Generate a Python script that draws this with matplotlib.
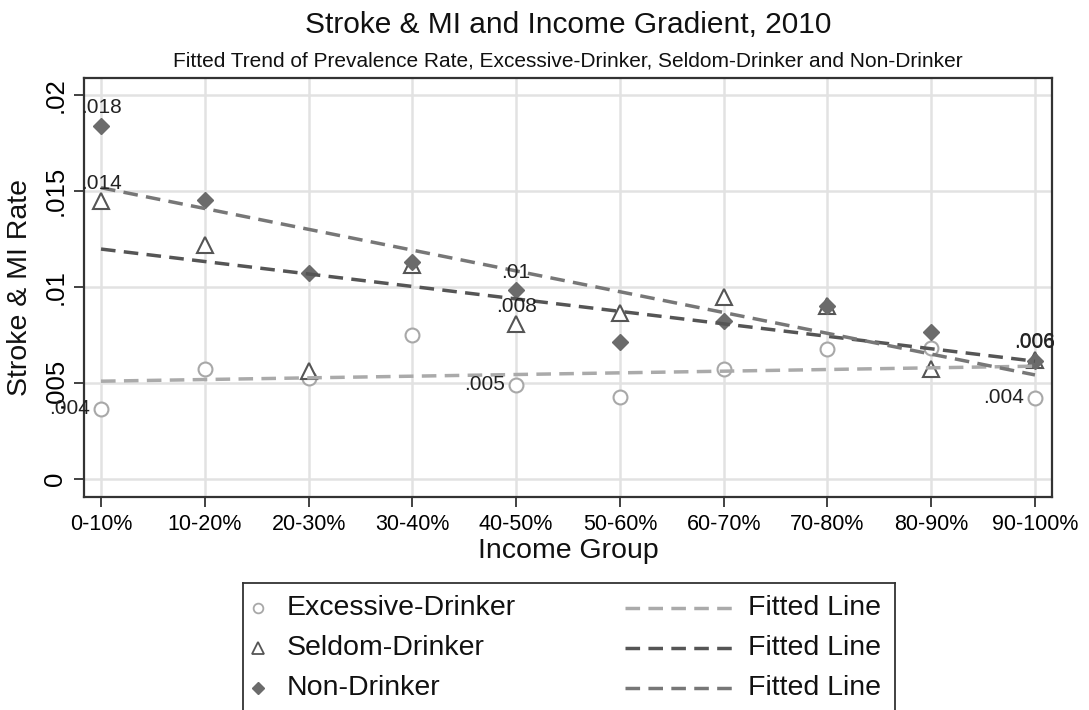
import matplotlib
matplotlib.use("Agg")
import matplotlib.pyplot as plt
from matplotlib.lines import Line2D
import numpy as np

plt.rcParams['font.family'] = ['Liberation Sans', 'DejaVu Sans']

groups = ["0-10%", "10-20%", "20-30%", "30-40%", "40-50%",
          "50-60%", "60-70%", "70-80%", "80-90%", "90-100%"]
excessive = [0.00365, 0.00573, 0.00526, 0.00750, 0.00490,
             0.00427, 0.00573, 0.00677, 0.00682, 0.00422]
seldom = [0.01446, 0.01219, 0.00563, 0.01115, 0.00807,
          0.00865, 0.00948, 0.00900, 0.00573, 0.00620]
non_drinker = [0.01839, 0.01453, 0.01073, 0.01130, 0.00984,
               0.00714, 0.00823, 0.00900, 0.00766, 0.00615]
labelled = [0, 4, 9]   # points that carry a value label
yticks = [0, 0.005, 0.01, 0.015, 0.02]
yticklabels = ["0", ".005", ".01", ".015", ".02"]

def fmt(v):
    s = ("%.3f" % round(v, 3)).rstrip("0")
    return s[1:] if s.startswith("0") else s

W, H = 1089, 710
fig = plt.figure(figsize=(W / 100, H / 100), dpi=100)
ax = fig.add_axes([84 / W, 1 - 497 / H, (1052 - 84) / W, (497 - 78) / H])

x = np.arange(len(groups))

# scatter series
ax.plot(x, excessive, "o", ms=10, mfc="white", mec="#a8a8a8", mew=1.5, zorder=3)
ax.plot(x, seldom, "^", ms=11, mfc="white", mec="#555555", mew=1.5, zorder=3)
ax.plot(x, non_drinker, "D", ms=8, mfc="#6b6b6b", mec="#6b6b6b", zorder=4)

# fitted lines
fit_colors = ["#aaaaaa", "#555555", "#777777"]
for vals, c in zip([excessive, seldom, non_drinker], fit_colors):
    b, a = np.polyfit(x, vals, 1)
    ax.plot(x, a + b * x, color=c, lw=2.5, dashes=(4.2, 2.4), zorder=5)

# value labels
for i in labelled:
    ax.annotate(fmt(excessive[i]), (x[i], excessive[i]), xytext=(-8, 0),
                textcoords="offset points", ha="right", va="center",
                fontsize=15, color="#222222", zorder=6)
    for vals in (seldom, non_drinker):
        ax.annotate(fmt(vals[i]), (x[i], vals[i]), xytext=(0, 13),
                    textcoords="offset points", ha="center", va="center",
                    fontsize=15, color="#222222", zorder=6)

ax.set_xlim(-0.164, 9.164)
ax.set_ylim(-0.00094, 0.02089)
ax.set_xticks(x)
ax.set_xticklabels(groups, fontsize=15.5)
ax.set_yticks(yticks)
ax.set_yticklabels(yticklabels, fontsize=18.5, rotation=90, va="center")
ax.tick_params(axis="both", direction="out", length=7, width=1.3,
               color="#333333", pad=5)
ax.grid(True, color="#e2e2e2", lw=1.8, zorder=0)
ax.set_axisbelow(True)
for s in ax.spines.values():
    s.set_color("#333333")
    s.set_linewidth(1.6)

ax.set_xlabel("Income Group", fontsize=20.5, color="#111111")
ax.xaxis.label.set_va("center")
ax.xaxis.set_label_coords(0.5, -(551 - 497) / 419)
ax.set_ylabel("Stroke & MI Rate", fontsize=20.5, color="#111111")
ax.yaxis.label.set_va("center")
ax.yaxis.set_label_coords(-(84 - 20) / 968, 0.5)

fig.text(568 / W, 1 - 25 / H, "Stroke & MI and Income Gradient, 2010",
         ha="center", va="center", fontsize=21.5, color="#111111")
fig.text(568 / W, 1 - 61 / H,
         "Fitted Trend of Prevalence Rate, Excessive-Drinker, Seldom-Drinker and Non-Drinker",
         ha="center", va="center", fontsize=15, color="#111111")

# legend box drawn by hand (box runs off the bottom edge)
lg = fig.add_axes([243 / W, 1 - 720 / H, (895 - 243) / W, (720 - 583) / H])
lg.set_xlim(243, 895)
lg.set_ylim(720, 583)
lg.set_xticks([])
lg.set_yticks([])
for s in lg.spines.values():
    s.set_color("#333333")
    s.set_linewidth(1.3)
rows = [608, 648, 688]
names = ["Excessive-Drinker", "Seldom-Drinker", "Non-Drinker"]
marker_styles = [dict(marker="o", ms=7, mfc="white", mec="#a8a8a8", mew=1.3),
                 dict(marker="^", ms=8, mfc="white", mec="#555555", mew=1.3),
                 dict(marker="D", ms=6, mfc="#6b6b6b", mec="#6b6b6b")]
for r, name, ms_kw, c in zip(rows, names, marker_styles, fit_colors):
    lg.add_line(Line2D([258], [r], ls="none", **ms_kw))
    lg.text(287, r, name, ha="left", va="center", fontsize=20.5, color="#111111")
    lg.add_line(Line2D([625, 735], [r, r], color=c, lw=2.5, dashes=(4.2, 2.4)))
    lg.text(748, r, "Fitted Line", ha="left", va="center", fontsize=20.5, color="#111111")

fig.savefig("out.png", dpi=100, facecolor="white")
